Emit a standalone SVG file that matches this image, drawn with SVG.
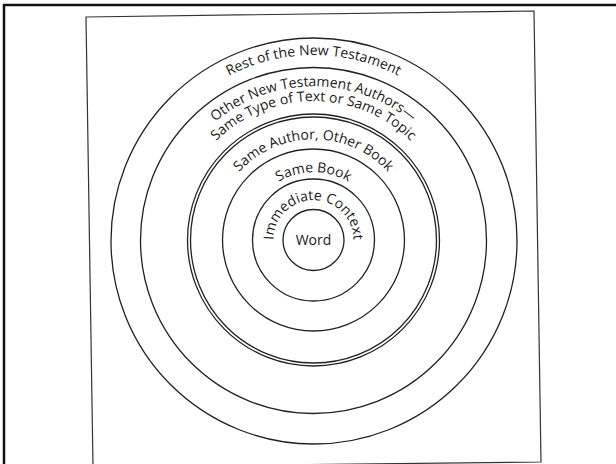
<svg xmlns="http://www.w3.org/2000/svg" width="616" height="464" viewBox="0 0 616 464">
<style>
.ring{fill:none;stroke:#222;stroke-width:1.3}
.lbl{font-family:"Open Sans","Noto Sans","DejaVu Sans",sans-serif;font-size:14px;fill:#1a1a1a}
</style>
<defs>
<path id="p1" d="M131.3,272.2 A185,185 0 1 1 495.7,272.2"/>
<path id="p2a" d="M161.8,266.8 A154,154 0 1 1 465.2,266.8"/>
<path id="p2b" d="M176.6,264.2 A139,139 0 1 1 450.4,264.2"/>
<path id="p3" d="M214,257.6 A101,101 0 1 1 413,257.6"/>
<path id="p4" d="M246.5,251.8 A68,68 0 1 1 380.5,251.8"/>
<path id="p5" d="M274.1,247 A40,40 0 1 1 352.9,247"/>
</defs>
<rect width="616" height="464" fill="#fff"/>
<g id="frame">
<line x1="3" y1="5" x2="616" y2="5" stroke="#111" stroke-width="2.5"/>
<line x1="4" y1="4" x2="4" y2="464" stroke="#111" stroke-width="2.5"/>
<polygon points="86,17 534,11 541,462 93,467" fill="none" stroke="#333" stroke-width="1.2"/>
</g>
<g id="ring-rest">
<circle class="ring" cx="314" cy="241" r="203"/>
<text class="lbl"><textPath href="#p1" startOffset="50%" text-anchor="middle">Rest of the New Testament</textPath></text>
</g>
<g id="ring-other-authors">
<circle class="ring" cx="313.5" cy="240.5" r="173"/>
<text class="lbl"><textPath href="#p2a" startOffset="50%" text-anchor="middle">Other New Testament Authors—</textPath></text>
<text class="lbl"><textPath href="#p2b" startOffset="50%" text-anchor="middle">Same Type of Text or Same Topic</textPath></text>
</g>
<g id="ring-same-author">
<circle class="ring" cx="313.5" cy="240" r="126"/>
<circle class="ring" cx="313.5" cy="240" r="123"/>
<text class="lbl"><textPath href="#p3" startOffset="50%" text-anchor="middle">Same Author, Other Book</textPath></text>
</g>
<g id="ring-same-book">
<circle class="ring" cx="313.5" cy="240" r="91"/>
<text class="lbl"><textPath href="#p4" startOffset="50%" text-anchor="middle">Same Book</textPath></text>
</g>
<g id="ring-context">
<circle class="ring" cx="313.5" cy="240" r="61"/>
<text class="lbl"><textPath href="#p5" startOffset="50%" text-anchor="middle">Immediate Context</textPath></text>
</g>
<g id="ring-word">
<circle class="ring" cx="313.5" cy="240" r="30.5"/>
<text class="lbl" x="313.5" y="245" text-anchor="middle">Word</text>
</g>
</svg>
